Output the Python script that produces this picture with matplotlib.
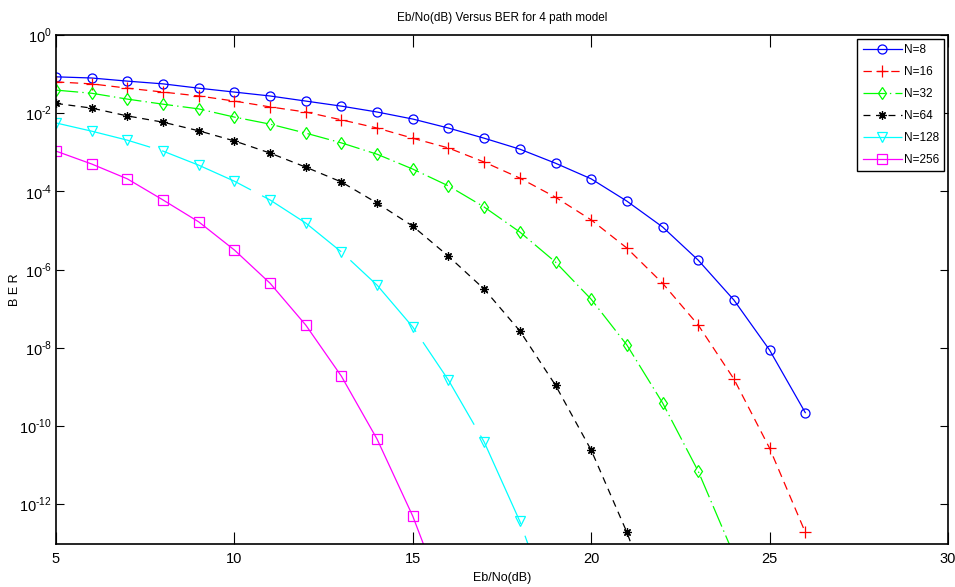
import numpy as np
import matplotlib
matplotlib.use("Agg")
import matplotlib.pyplot as plt

plt.rcParams['font.family'] = ['Liberation Sans Narrow', 'Liberation Sans', 'DejaVu Sans']
plt.rcParams['lines.scale_dashes'] = False
plt.rcParams['mathtext.fontset'] = 'custom'
plt.rcParams['mathtext.rm'] = 'Liberation Sans'

# Eb/No in dB
snr = np.arange(5, 27)

# log10(BER) for each carrier count
ber_n8 = [-1.07, -1.10, -1.18, -1.25, -1.36, -1.46, -1.56, -1.69, -1.82, -1.97, -2.15,
          -2.38, -2.64, -2.92, -3.28, -3.68, -4.25, -4.91, -5.76, -6.78, -8.06, -9.66]
ber_n16 = [-1.20, -1.25, -1.36, -1.46, -1.56, -1.69, -1.84, -1.97, -2.17, -2.38, -2.64,
           -2.89, -3.25, -3.66, -4.15, -4.73, -5.45, -6.35, -7.42, -8.80, -10.57, -12.72]
ber_n32 = [-1.41, -1.49, -1.64, -1.77, -1.89, -2.10, -2.28, -2.51, -2.76, -3.05, -3.43,
           -3.86, -4.40, -5.04, -5.81, -6.76, -7.93, -9.41, -11.16, -13.30]
ber_n64 = [-1.75, -1.87, -2.07, -2.23, -2.45, -2.71, -3.02, -3.38, -3.76, -4.30, -4.89,
           -5.66, -6.50, -7.57, -8.96, -10.62, -12.72, -15.20]
ber_n128 = [-2.25, -2.46, -2.69, -2.97, -3.33, -3.74, -4.22, -4.81, -5.55, -6.40, -7.47,
            -8.83, -10.41, -12.44, -15.00]
ber_n256 = [-2.97, -3.30, -3.68, -4.22, -4.78, -5.50, -6.35, -7.42, -8.73, -10.34, -12.31,
            -14.70]

labels = ['N=8', 'N=16', 'N=32', 'N=64', 'N=128', 'N=256']
series = [ber_n8, ber_n16, ber_n32, ber_n64, ber_n128, ber_n256]
colors = ['#0000ff', '#ff0000', '#00ff00', '#000000', '#00ffff', '#ff00ff']
markers = ['o', '+', 'd', (8, 2, 0), 'v', 's']
sizes = [6.5, 8, 6.5, 6, 6.5, 6.5]
styles = ['-', (0, (6, 4)), (0, (16, 3, 1, 3)), (0, (5, 4)), (0, (70, 9)), '-']

fig = plt.figure(figsize=(9.55, 5.87), dpi=100)
ax = fig.add_axes([56 / 955, 1 - 544 / 587, 892 / 955, 509 / 587])

for vals, lab, c, m, ms, ls in zip(series, labels, colors, markers, sizes, styles):
    x = snr[:len(vals)]
    y = 10.0 ** np.array(vals)
    ax.semilogy(x, y, color=c, marker=m, linestyle=ls, linewidth=0.9,
                markersize=ms, markerfacecolor='none', markeredgecolor=c,
                markeredgewidth=0.9, label=lab)

ax.set_xlim(5, 30)
ax.set_ylim(10 ** -13.02, 1)
ax.set_xticks([5, 10, 15, 20, 25, 30])
ax.set_yticks([10.0 ** k for k in range(0, -13, -2)])
ax.set_yticklabels([r'$10^{\text{%d}}$' % k for k in range(0, -13, -2)])
ax.minorticks_off()
ax.tick_params(direction='in', top=True, right=True, labelsize=10.5, width=0.8)
ax.tick_params(axis='x', length=8.5, pad=6)
ax.tick_params(axis='y', length=6, pad=3)
for sp in ax.spines.values():
    sp.set_linewidth(1.2)

ax.set_title('Eb/No(dB) Versus BER for 4 path model', fontsize=8.5, pad=10)
ax.set_xlabel('Eb/No(dB)', fontsize=9, labelpad=4)
ax.set_ylabel('B E R', fontsize=9, va='center')
ax.yaxis.set_label_coords(-41 / 892, 0.5)

leg = ax.legend(loc='upper right', fontsize=8.5, fancybox=False, framealpha=1,
                edgecolor='black', borderaxespad=0.3, handlelength=3.3,
                labelspacing=0.85, handletextpad=0.2, borderpad=0.45)
leg.get_frame().set_linewidth(1.0)

fig.savefig('out.png', dpi=100)
